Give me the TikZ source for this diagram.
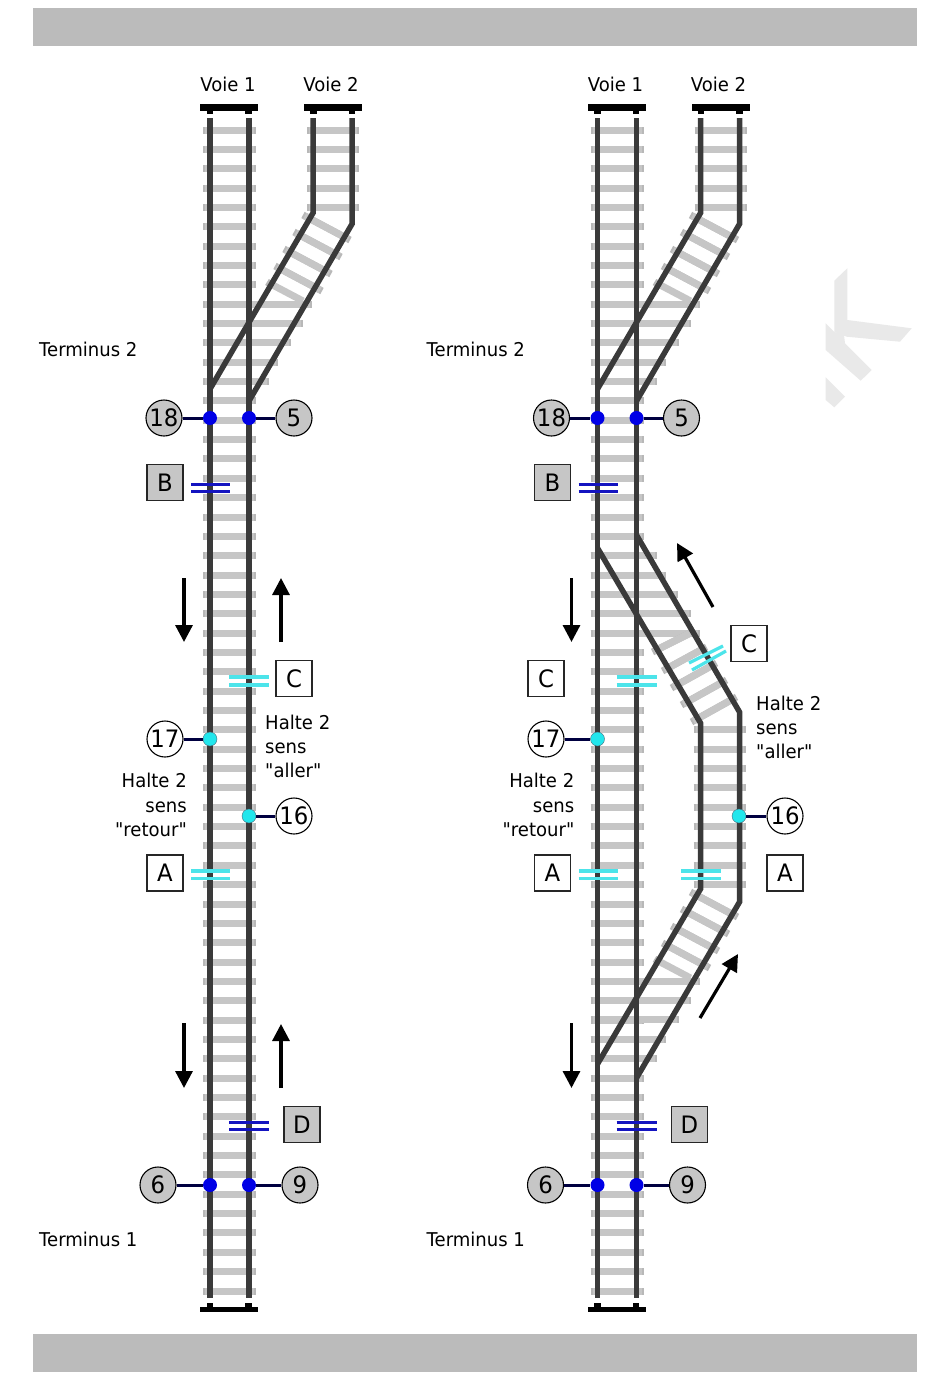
\documentclass[tikz,border=0pt]{standalone}
\usepackage{fontspec}
\setmainfont{DejaVu Sans}[FakeStretch=0.95,Ligatures=TeXOff]
\usetikzlibrary{arrows.meta}
\definecolor{tiec}{HTML}{C6C6C6}
\definecolor{tieb}{HTML}{B8B8B8}
\definecolor{railc}{HTML}{3A3A3A}
\definecolor{barc}{HTML}{BBBBBB}
\definecolor{bluec}{HTML}{0000E6}
\definecolor{bluebar}{HTML}{1414C0}
\definecolor{cyanc}{HTML}{22E6EC}
\definecolor{cyanbar}{HTML}{4CE4EA}
\definecolor{wm}{HTML}{E9E9E9}
\tikzset{
  tieend/.style={line width=7pt,tieb,line cap=butt},
  tie/.style={line width=7pt,tiec,line cap=butt,shorten <=2pt,shorten >=2pt},
  rail/.style={line width=5.5pt,railc,line join=miter},
  numc/.style={circle,draw=black,line width=1.1pt,minimum size=36pt,inner sep=0pt,font=\fontsize{24}{24}\selectfont},
  grayc/.style={numc,fill=tiec},
  whitec/.style={numc,fill=white},
  boxn/.style={rectangle,draw=black!85,line width=1.1pt,minimum size=36pt,inner sep=0pt,font=\fontsize{24}{24}\selectfont},
  grayb/.style={boxn,fill=tiec},
  whiteb/.style={boxn,fill=white},
  lead/.style={line width=3pt,draw=black!75!blue},
  bdot/.style={circle,fill=bluec,minimum size=14pt,inner sep=0pt},
  cdot/.style={circle,fill=cyanc,draw=black!60!cyan,line width=0.4pt,minimum size=14pt,inner sep=0pt},
  bbar/.style={line width=3pt,bluebar},
  cbar/.style={line width=3.2pt,cyanbar},
  dirarrow/.style={line width=3.2pt,black,-{Triangle[length=17pt,width=17pt]}},
  txt/.style={inner sep=0pt,font=\fontsize{19}{24.3}\selectfont,align=left},
  endbar/.style={fill=black},
}
\newcommand{\onetie}[4]{\draw[tieend] (#1,#2) -- (#3,#4);\draw[tie] (#1,#2) -- (#3,#4);}
\newcommand{\tieset}[3]{% x0 x1 list of k
  \foreach \k in {#3}{\onetie{#1}{130+19.35*\k}{#2}{130+19.35*\k}}}
\newcommand{\barpair}[6]{% style x0 y0 x1 y1 sep (horizontal)
  \draw[#1] (#2,#3) -- (#4,#5); \draw[#1] (#2,#3+#6) -- (#4,#5+#6);}
\newcommand{\bufferbar}[2]{% x0 y
  \fill[endbar] (#1,#2) rectangle ++(58,6.5);}
\newcommand{\lowerbranch}{%
  \foreach \xe/\k in {312/9,303/10,291/11,278/12,269/13}{\onetie{203}{130+19.35*\k}{\xe}{130+19.35*\k}}
  \foreach \a/\b/\c/\d in {303/215/350/240,294/232/341/257,284/249/331/274,275/266/322/291}{\onetie{\a}{\b}{\c}{\d}}
  \draw[tieend] (267,282) -- (272,285);\draw[tie,shorten <=2pt,shorten >=0pt] (267,282) -- (303,301);
}
\newcommand{\commonA}{%
  \tieset{203}{256}{0,...,60}
  \tieset{307}{359}{0,...,4}
  \lowerbranch
}
\newcommand{\commonB}{%
  \coordinate (p1) at (210,118); \coordinate (p2) at (210,1298);
  \coordinate (q1) at (249,118); \coordinate (q2) at (249,1298);
  \draw[rail] (p1) -- (p2);
  \draw[rail] (q1) -- (q2);
  \coordinate (v1) at (313,118); \coordinate (v2) at (313,213); \coordinate (v3) at (210,389);
  \coordinate (w1) at (352,118); \coordinate (w2) at (352,224); \coordinate (w3) at (249,401);
  \draw[rail] (v1) -- (v2) -- (v3);
  \draw[rail] (w1) -- (w2) -- (w3);
  % buffers
  \bufferbar{200}{104}\bufferbar{304}{104}
  \fill[endbar] (206.5,110) rectangle (213,114);\fill[endbar] (245,110) rectangle (251.5,114);
  \fill[endbar] (310,110) rectangle (316.5,114);\fill[endbar] (348.5,110) rectangle (355,114);
  \fill[endbar] (200,1306.5) rectangle (258,1312);
  \fill[endbar] (206.5,1303) rectangle (213,1307);\fill[endbar] (245,1303) rectangle (251.5,1307);
  % labels common
  \node[txt,anchor=center] (voieA) at (228,84) {Voie 1};
  \node[txt,anchor=center] (voieB) at (331,84) {Voie 2};
  \node[txt,anchor=west] (term2) at (39,349) {Terminus 2};
  \node[txt,anchor=west] (term1) at (39,1239) {Terminus 1};
  \node[txt,anchor=east,align=right] (halteR) at (187,805) {Halte 2\\sens\\"retour"};
  % detectors
  \node[bdot] (d18) at (210,418) {};
  \node[bdot] (d5) at (249,418) {};
  \node[bdot] (d6) at (210,1185) {};
  \node[bdot] (d9) at (249,1185) {};
  \node[cdot] (d17) at (210,739) {};
  \node[grayc] (n18) at (164,418) {18};
  \node[grayc] (n5) at (294,418) {5};
  \node[grayc] (n6) at (158,1185) {6};
  \node[grayc] (n9) at (300,1185) {9};
  \draw[lead] (n18) -- (d18);
  \draw[lead] (n5) -- (d5);
  \draw[lead] (n6) -- (d6);
  \draw[lead] (n9) -- (d9);
  \node[grayb] (bB) at (165,482.5) {B};
  \node[whiteb] (bA) at (165,873) {A};
  \node[grayb] (bD) at (302,1124.5) {D};
  \barpair{bbar}{191}{484}{230}{484}{7}
  \barpair{cbar}{191}{871}{230}{871}{7.5}
  \barpair{bbar}{229}{1122}{269}{1122}{7}
  \barpair{cbar}{229}{677}{269}{677}{8}
  % arrows common
  \coordinate (aA1) at (184,578); \coordinate (aA2) at (184,642);
  \coordinate (aB1) at (184,1023); \coordinate (aB2) at (184,1088);
  \draw[dirarrow] (aA1) -- (aA2);
  \draw[dirarrow] (aB1) -- (aB2);
}
\begin{document}
\begin{tikzpicture}[x=1pt,y=-1pt]
\useasboundingbox (0,0) rectangle (950,1377);
\fill[white] (0,0) rectangle (950,1377);
\fill[barc] (33,8) rectangle (917,46);
\fill[barc] (33,1334) rectangle (917,1372);
% watermark
\fill[wm] (834.3,280.7) -- (847.3,268.3) -- (847.3,320) -- (911.7,328.3) -- (900,341.7) -- (846.7,336.7) -- (834.3,332) -- cycle;
\fill[wm] (825.7,323.3) -- (834.3,332) -- (844,335) -- (845,343.3) -- (871.7,370) -- (860.7,380.7) -- (825.7,350) -- cycle;
\fill[wm] (825.7,377.3) -- (845,396.7) -- (834.3,407.3) -- (825.7,400) -- cycle;

% LEFT DIAGRAM
\begin{scope}[name prefix=l-]
  \commonA
  \commonB
  \node[txt] (halteA) at (265,746.5) [anchor=west] {Halte 2\\sens\\"aller"};
  \node[whitec] (n17) at (165,739) {17};
  \draw[lead] (n17) -- (d17);
  \node[cdot] (d16) at (249,816) {};
  \node[whitec] (n16) at (294,816) {16};
  \draw[lead] (n16) -- (d16);
  \node[whiteb] (bC) at (294,678.5) {C};
  \coordinate (aC1) at (281,642); \coordinate (aC2) at (281,578);
  \coordinate (aD1) at (281,1088); \coordinate (aD2) at (281,1024);
  \draw[dirarrow] (aC1) -- (aC2);
  \draw[dirarrow] (aD1) -- (aD2);
\end{scope}

% RIGHT DIAGRAM
\begin{scope}[name prefix=r-,xshift=387.5pt]
  \commonA
  % loop ties
  \tieset{306}{358}{31,...,39}
  % upper turnout
  \foreach \xe/\k in {269/22,278/23,290/24,303/25,312/26}{\onetie{203}{130+19.35*\k}{\xe}{130+19.35*\k}}
  \foreach \a/\b/\c/\d in {265/652/305/632,275/671/319/647,284/688/329/663,294/705/339/680}{\onetie{\a}{\b}{\c}{\d}}
  \onetie{304}{722}{349}{697}
  % lower turnout
  \begin{scope}[yshift=-677pt]
    \lowerbranch
  \end{scope}
  \commonB
  % loop rails
  \coordinate (s1) at (210,548); \coordinate (s2) at (313,723); \coordinate (s3) at (313,889); \coordinate (s4) at (210,1064);
  \coordinate (t1) at (249,535); \coordinate (t2) at (352,712); \coordinate (t3) at (352,902); \coordinate (t4) at (249,1078);
  \draw[rail] (s1) -- (s2) -- (s3) -- (s4);
  \draw[rail] (t1) -- (t2) -- (t3) -- (t4);
  \node[txt] (halteA) at (368.5,727.5) [anchor=west] {Halte 2\\sens\\"aller"};
  \node[whitec] (n17) at (158.5,739) {17};
  \draw[lead] (n17) -- (d17);
  \node[cdot] (d16) at (351.5,816) {};
  \node[whitec] (n16) at (397.5,816) {16};
  \draw[lead] (n16) -- (d16);
  \node[whiteb] (bC) at (361.5,643.5) {C};
  \node[whiteb] (bCl) at (158.5,678.5) {C};
  \node[whiteb] (bAr) at (397.5,873) {A};
  \barpair{cbar}{293.5}{871}{333.5}{871}{7.5}
  \draw[cbar] (301.5,663) -- (335.5,646);
  \draw[cbar] (304.5,670) -- (338.5,651);
  \coordinate (aC1) at (325.5,607); \coordinate (aC2) at (289.5,543);
  \coordinate (aD1) at (312.5,1018); \coordinate (aD2) at (350.5,954);
  \draw[dirarrow] (aC1) -- (aC2);
  \draw[dirarrow] (aD1) -- (aD2);
\end{scope}
\end{tikzpicture}
\end{document}
